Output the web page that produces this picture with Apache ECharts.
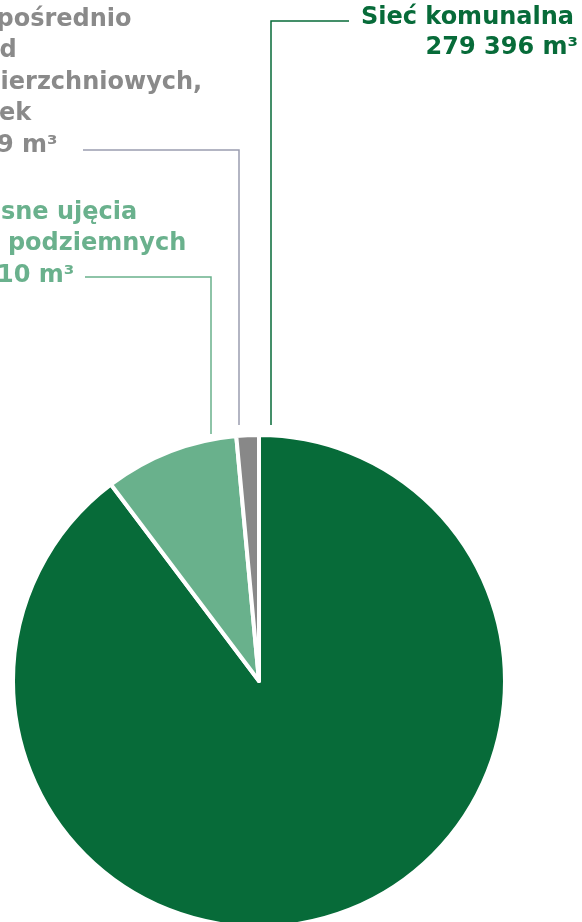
<!DOCTYPE html>
<html><head><meta charset="utf-8">
<script src="https://cdn.jsdelivr.net/npm/echarts@6/dist/echarts.min.js"></script>
<style>html,body{margin:0;padding:0;background:#fff}#c{width:582px;height:922px}</style>
</head><body><div id="c"></div>
<script>
// ---- data ----
const categories = ['Sieć komunalna', 'Własne ujęcia wód podziemnych', 'Bezpośrednio z wód powierzchniowych, z rzek'];
const labelLines = [
  ['Sieć komunalna'],
  ['Własne ujęcia', 'wód podziemnych'],
  ['Bezpośrednio', 'z wód', 'powierzchniowych,', 'z rzek']
];
const values = [279396, 27410, 4589];
const unit = 'm³';

// ---- style ----
const colors = ['#076b39', '#69b18c', '#888888'];
const textColors = ['#076b39', '#6ab18d', '#8a8a8a'];
const lineColors = ['#076b39', '#69b18c', '#9a9db0'];
const center = [259, 681];
const radius = 246;
const placement = [
  {x: 578, y: 3, align: 'right', lh: 30, lx: 271, lb: 425, ly: 21, le: 349, size: 24, pads: [[0, 4, 0, 0], [0, 0, 0, 0]]},
  {x: -62, y: 197, align: 'left', lh: 31.5, lx: 211, lb: 434, ly: 277, le: 85, size: 24, pads: [[0, 0, 0, 11.4], [0, 0, 0, 5.7], [0, 0, 0, 0.5]]},
  {x: -64, y: 4, align: 'left', lh: 31.5, lx: 239, lb: 425, ly: 150, le: 83, size: 24, pads: [[0, 0, 0, 12], [0, 0, 0, 2.4], [0, 0, 0, 8.7], [0, 0, 0, 14.9], [0, 0, 0, 2.5]]}
];

function fmt(v) { return String(v).replace(/\B(?=(\d{3})+(?!\d))/g, ' '); }

const data = categories.map((name, i) => {
  const pl = placement[i];
  const rich = {};
  pl.pads.forEach((pad, k) => {
    rich['l' + k] = {
      color: textColors[i],
      fontSize: pl.size,
      fontFamily: 'DejaVu Sans',
      fontWeight: 'bold',
      lineHeight: pl.lh,
      padding: pad
    };
  });
  return {
    name,
    value: values[i],
    itemStyle: {color: colors[i]},
    label: {
      color: textColors[i],
      fontSize: pl.size,
      lineHeight: pl.lh,
      align: pl.align,
      rich: rich
    },
    labelLine: {lineStyle: {color: lineColors[i], width: 1.5}}
  };
});

const chart = echarts.init(document.getElementById('c'), null, {renderer: 'canvas'});
chart.setOption({
  animation: false,
  backgroundColor: '#fff',
  series: [{
    type: 'pie',
    center: center,
    radius: radius,
    startAngle: 90,
    clockwise: true,
    silent: true,
    avoidLabelOverlap: false,
    itemStyle: {borderColor: '#fff', borderWidth: 4},
    label: {
      show: true,
      position: 'outside',
      overflow: 'none',
      width: 600,
      fontFamily: 'DejaVu Sans',
      fontWeight: 'bold',
      formatter: p => labelLines[p.dataIndex]
        .concat(fmt(p.value) + ' ' + unit)
        .map((t, k) => '{l' + k + '|' + t + '}')
        .join('\n')
    },
    labelLine: {show: true, length: 10, length2: 10},
    labelLayout: function (params) {
      const pl = placement[params.dataIndex];
      return {
        x: pl.x,
        y: pl.y,
        align: pl.align,
        verticalAlign: 'top',
        hideOverlap: false,
        labelLinePoints: [[pl.lx, pl.lb], [pl.lx, pl.ly], [pl.le, pl.ly]]
      };
    },
    data: data
  }]
});
</script>
</body></html>
